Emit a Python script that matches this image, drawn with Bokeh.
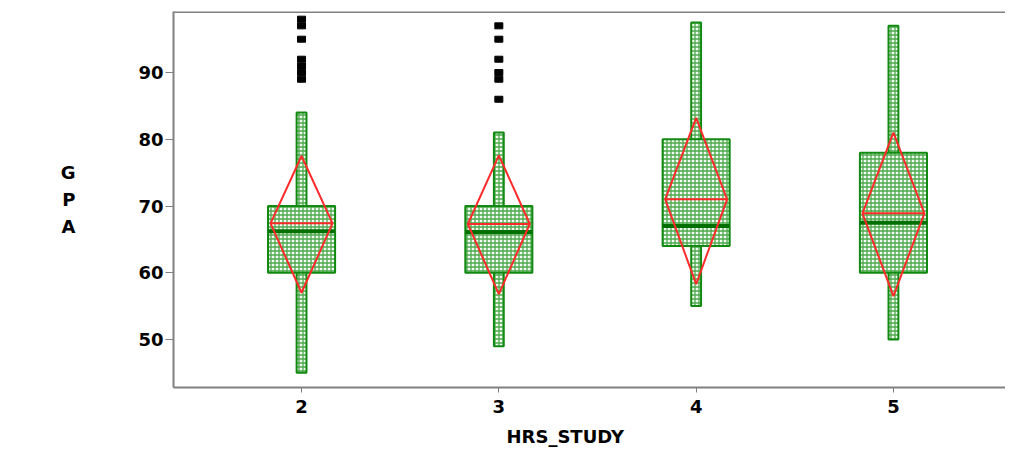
from bokeh.plotting import figure
from bokeh.models import FixedTicker, Span, ColumnDataSource
from bokeh.embed import file_html
from bokeh.resources import INLINE

# ---- data ----
hrs = [2, 3, 4, 5]
whisker_low = [45, 49, 55, 50]
whisker_high = [84, 81, 97.5, 97]
q1 = [60, 60, 64, 60]
q3 = [70, 70, 80, 78]
median = [66.2, 66.1, 67, 67.5]
mean = [67.4, 67.3, 71, 68.9]
ci_low = [57, 56.8, 58.3, 56.5]
ci_high = [77.5, 77.6, 83.2, 81]

outlier_x = [2, 2, 2, 2, 2, 2, 2, 3, 3, 3, 3, 3, 3]
outlier_y = [98, 97, 95, 92, 91, 90, 89, 97, 95, 92, 90, 89, 86]

x_ticks = [2, 3, 4, 5]
y_ticks = [50, 60, 70, 80, 90]

GREEN = "#128a12"
RED = "#ff2a2a"
GRAY = "#808080"
FONT = "DejaVu Sans"

p = figure(width=1005, height=457, x_range=(1.351, 5.568), y_range=(42.8, 99.15),
           output_backend="svg", toolbar_location=None,
           title="HRS_STUDY", title_location="below",
           min_border_left=173, min_border_right=0, min_border_top=11, min_border_bottom=70)
p.outline_line_color = None
p.grid.visible = False
p.background_fill_color = "white"
p.border_fill_color = "white"

p.title.align = "left"
p.title.offset = 333
p.title.text_font = FONT
p.title.text_font_style = "bold"
p.title.text_font_size = "18px"
p.title.text_color = "black"
p.title.standoff = 16

box_w = 0.34
dia_w = 0.314
wh_w = 0.05

src = ColumnDataSource(dict(
    x=hrs,
    wl=whisker_low, wh=whisker_high,
    q1=q1, q3=q3,
    med=median, mean=mean,
))

hatch = dict(fill_color="#f4fbf4", hatch_pattern="+", hatch_color="#2f9a2f",
             hatch_scale=4, hatch_weight=1.3, hatch_alpha=0.85)

# whiskers drawn as thin filled bars
p.vbar(x="x", bottom="wl", top="wh", width=wh_w, source=src,
       line_color=GREEN, line_width=2, **hatch)
# boxes
p.vbar(x="x", bottom="q1", top="q3", width=box_w, source=src,
       line_color=GREEN, line_width=2, **hatch)
# medians
p.segment(x0=[h - box_w / 2 for h in hrs], x1=[h + box_w / 2 for h in hrs],
          y0=median, y1=median, line_color="#007000", line_width=4)
# mean diamonds
xs = [[h, h + dia_w / 2, h, h - dia_w / 2] for h in hrs]
ys = [[hi, m, lo, m] for hi, m, lo in zip(ci_high, mean, ci_low)]
p.patches(xs, ys, fill_color=None, line_color=RED, line_width=2)
p.segment(x0=[h - dia_w / 2 for h in hrs], x1=[h + dia_w / 2 for h in hrs],
          y0=mean, y1=mean, line_color=RED, line_width=2)
# outliers
p.rect(x=outlier_x, y=outlier_y, width=8, height=6, width_units="screen",
       height_units="screen", fill_color="black", line_color="black")

# axes styling
for ax in (p.xaxis[0], p.yaxis[0]):
    ax.axis_line_color = GRAY
    ax.axis_line_width = 2
    ax.major_tick_line_color = GRAY
    ax.major_tick_line_width = 1
    ax.minor_tick_line_color = None
    ax.major_tick_in = 0
    ax.major_label_text_font = FONT
    ax.major_label_text_font_style = "bold"
    ax.major_label_text_font_size = "18px"
    ax.major_label_text_color = "black"

p.xaxis.ticker = FixedTicker(ticks=x_ticks)
p.yaxis.ticker = FixedTicker(ticks=y_ticks)
p.xaxis.major_tick_out = 5
p.xaxis.major_label_standoff = 7
p.yaxis.major_tick_out = 8
p.yaxis.major_label_standoff = 2

p.yaxis.axis_label = "G\nP\nA"
p.yaxis.axis_label_orientation = "horizontal"
p.yaxis.axis_label_standoff = 60
p.yaxis.axis_label_text_font = FONT
p.yaxis.axis_label_text_font_style = "bold"
p.yaxis.axis_label_text_font_size = "18px"
p.yaxis.axis_label_text_color = "black"
p.yaxis.axis_label_text_line_height = 1.28

# top frame line
p.add_layout(Span(location=99.15, dimension="width", line_color=GRAY, line_width=3))

open("out.html", "w").write(file_html(p, INLINE))
